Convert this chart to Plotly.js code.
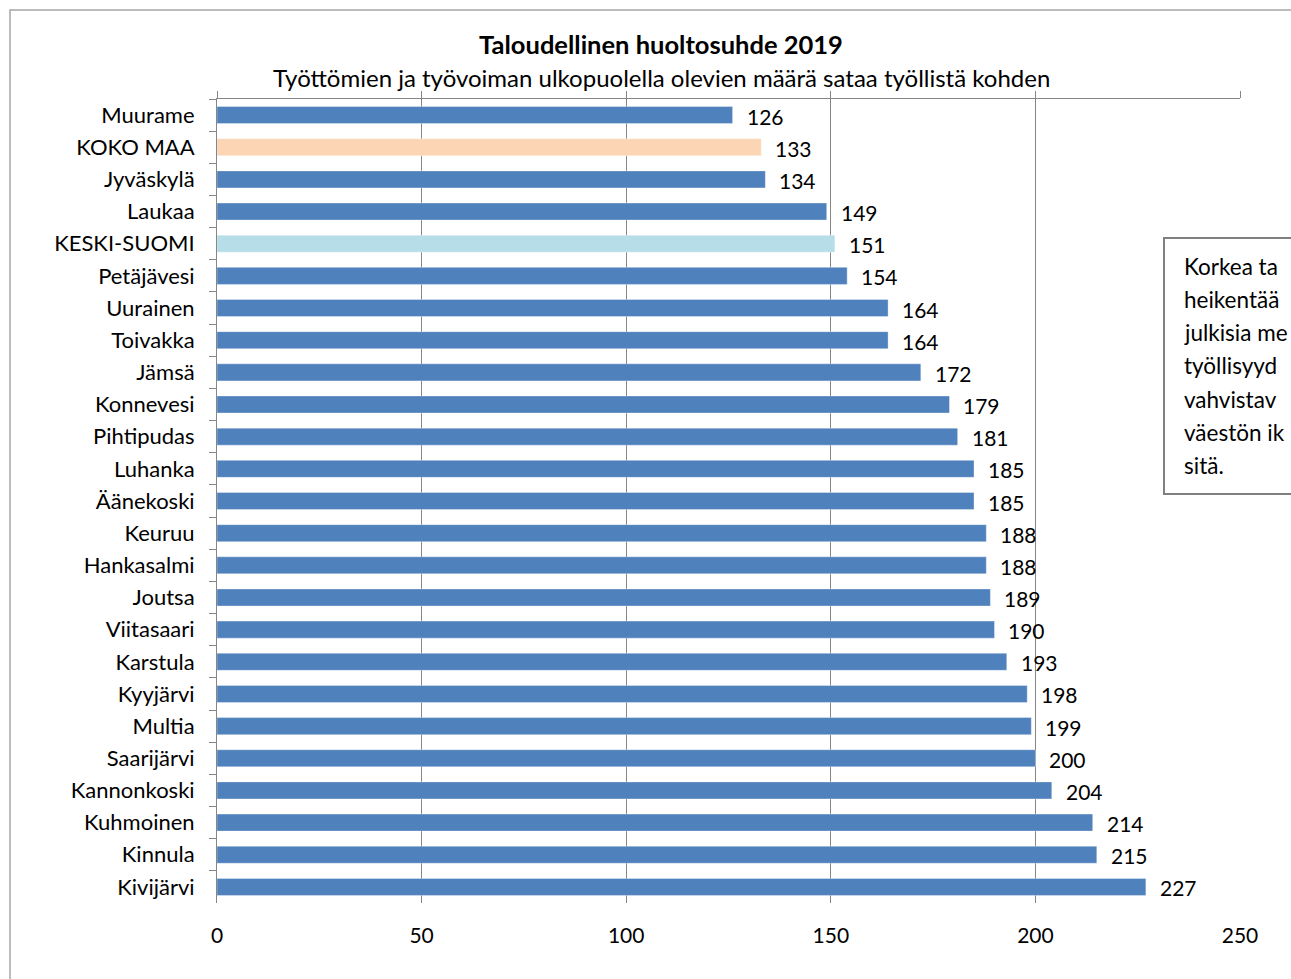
<!DOCTYPE html>
<html>
<head>
<meta charset="utf-8">
<script src="https://cdn.plot.ly/plotly-3.0.1.min.js"></script>
<style>html,body{margin:0;padding:0;background:#fff;}#chart{width:1291px;height:979px;}</style>
</head>
<body>
<div id="chart"></div>
<script>
const categories = ["Muurame","KOKO MAA","Jyväskylä","Laukaa","KESKI-SUOMI","Petäjävesi","Uurainen","Toivakka","Jämsä","Konnevesi","Pihtipudas","Luhanka","Äänekoski","Keuruu","Hankasalmi","Joutsa","Viitasaari","Karstula","Kyyjärvi","Multia","Saarijärvi","Kannonkoski","Kuhmoinen","Kinnula","Kivijärvi"];
const values = [126,133,134,149,151,154,164,164,172,179,181,185,185,188,188,189,190,193,198,199,200,204,214,215,227];
const barColors = ["#4F81BD","#FCD5B5","#4F81BD","#4F81BD","#B7DEE8","#4F81BD","#4F81BD","#4F81BD","#4F81BD","#4F81BD","#4F81BD","#4F81BD","#4F81BD","#4F81BD","#4F81BD","#4F81BD","#4F81BD","#4F81BD","#4F81BD","#4F81BD","#4F81BD","#4F81BD","#4F81BD","#4F81BD","#4F81BD"];
const xTicks = [0,50,100,150,200,250];
const titleText = "Taloudellinen huoltosuhde 2019";
const subtitleText = "Työttömien ja työvoiman ulkopuolella olevien määrä sataa työllistä kohden";
const boxLines = ["Korkea ta","heikentää","julkisia me","työllisyyd","vahvistav","väestön ik","sitä."];

const FONT = "Lato, 'Open Sans', sans-serif";
const GRID = "#868686";

const W = 1291, H = 979;
const L = 217, R = 1240, T = 99, B = 903;
const px2x = p => (p - L) / (R - L);
const py2y = p => (B - p) / (B - T);

const bar = {
  type: "bar", orientation: "h",
  x: values, y: categories,
  width: 0.53,
  marker: {color: barColors, line: {color: "rgba(255,255,255,0.35)", width: 1}},
  hoverinfo: "skip", xaxis: "x", yaxis: "y"
};

const annotations = [{
  xref: "paper", yref: "paper", x: px2x(661), y: py2y(78),
  xanchor: "center", yanchor: "middle", showarrow: false,
  text: subtitleText, font: {family: FONT, size: 24, color: "#000"}
}];
values.forEach((v, i) => {
  annotations.push({
    xref: "x", yref: "y", x: v, y: categories[i],
    xanchor: "left", yanchor: "middle", xshift: 12, yshift: -1, showarrow: false,
    text: String(v), font: {family: FONT, size: 21, color: "#000"}
  });
});
boxLines.forEach((t, i) => {
  annotations.push({
    xref: "paper", yref: "paper", x: px2x(1182), y: py2y(266 + i * 33.3),
    xanchor: "left", yanchor: "middle", showarrow: false,
    text: t, font: {family: FONT, size: 22.5, color: "#000"}
  });
});

const layout = {
  width: W, height: H,
  margin: {l: L, r: W - R, t: T, b: H - B, pad: 0},
  paper_bgcolor: "#fff", plot_bgcolor: "#fff",
  showlegend: false,
  title: {
    text: "<b>" + titleText + "</b>",
    font: {family: FONT, size: 25.5, color: "#000"},
    x: 661 / W, xref: "container", xanchor: "center",
    y: 1 - 45 / H, yref: "container", yanchor: "middle"
  },
  xaxis: {
    range: [0, 250], side: "top", tickvals: xTicks,
    showline: true, linecolor: GRID, linewidth: 1,
    ticks: "outside", ticklen: 7, tickcolor: GRID, tickwidth: 1,
    showgrid: true, gridcolor: GRID, gridwidth: 1,
    showticklabels: false, zeroline: false, fixedrange: true
  },
  xaxis2: {
    range: [0, 250], overlaying: "x", side: "bottom", tickvals: xTicks,
    showline: false, ticks: "", showgrid: false, zeroline: false,
    showticklabels: true, ticklabelstandoff: 18,
    tickfont: {family: FONT, size: 21, color: "#000"}
  },
  yaxis: {
    type: "category", range: [categories.length - 0.5, -0.5],
    showline: true, linecolor: GRID, linewidth: 1,
    ticks: "outside", tickson: "boundaries", ticklen: 7, tickcolor: GRID,
    showgrid: false, zeroline: false,
    ticklabelstandoff: 17,
    tickfont: {family: FONT, size: 22, color: "#000"}
  },
  annotations: annotations,
  shapes: [
    {type: "rect", xref: "paper", yref: "paper", layer: "below",
     x0: px2x(10), x1: px2x(1400), y0: py2y(1100), y1: py2y(10),
     line: {color: "#A6A6A6", width: 1.5}, fillcolor: "rgba(0,0,0,0)"},
    {type: "rect", xref: "paper", yref: "paper", layer: "above",
     x0: px2x(1164), x1: px2x(1400), y0: py2y(494), y1: py2y(238),
     line: {color: "#808080", width: 2}, fillcolor: "#fff"}
  ]
};

// invisible trace to bind the bottom label axis
const axisBinder = {type: "scatter", mode: "none", x: [xTicks[0], xTicks[xTicks.length - 1]], y: [categories[0], categories[0]], xaxis: "x2", yaxis: "y", hoverinfo: "skip"};

Plotly.newPlot("chart", [bar, axisBinder], layout, {staticPlot: true, displayModeBar: false});
</script>
</body>
</html>
